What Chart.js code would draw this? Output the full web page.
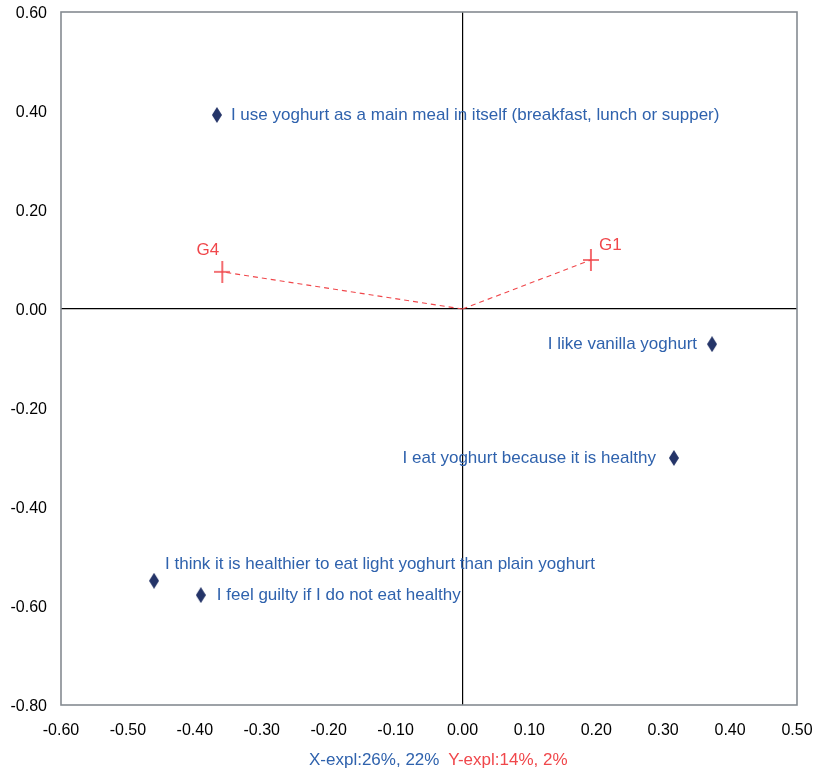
<!DOCTYPE html>
<html>
<head>
<meta charset="utf-8">
<script src="https://cdn.jsdelivr.net/npm/chart.js@4.4.1/dist/chart.umd.min.js"></script>
<style>
  html, body { margin: 0; padding: 0; background: #fff; }
  #wrap { width: 815px; height: 771px; }
</style>
</head>
<body>
<div id="wrap"><canvas id="c" width="815" height="771"></canvas></div>
<script>
// Attribute statements (loadings)
const statements = [
  'I use yoghurt as a main meal in itself (breakfast, lunch or supper)',
  'I like vanilla yoghurt',
  'I eat yoghurt because it is healthy',
  'I think it is healthier to eat light yoghurt than plain yoghurt',
  'I feel guilty if I do not eat healthy'
];
const statementX = [-0.367, 0.373, 0.316, -0.461, -0.391];
const statementY = [0.392, -0.071, -0.301, -0.549, -0.578];

// Consumer group centroids
const groups = ['G4', 'G1'];
const groupX = [-0.359, 0.192];
const groupY = [0.075, 0.099];

const xTicks = [-0.6, -0.5, -0.4, -0.3, -0.2, -0.1, 0, 0.1, 0.2, 0.3, 0.4, 0.5];
const yTicks = [-0.8, -0.6, -0.4, -0.2, 0, 0.2, 0.4, 0.6];

const explX = 'X-expl:26%, 22%';
const explY = 'Y-expl:14%, 2%';

const FONT = '"Liberation Sans", Arial, Helvetica, sans-serif';
const BLUE_TXT = '#2f62ad';
const NAVY = '#243468';
const RED = '#f0474b';

// tall diamond marker
function diamond(w, h, color) {
  const cv = document.createElement('canvas');
  cv.width = w; cv.height = h;
  const g = cv.getContext('2d');
  g.fillStyle = color;
  g.beginPath();
  g.moveTo(w / 2, 0);
  g.lineTo(w, h / 2);
  g.lineTo(w / 2, h);
  g.lineTo(0, h / 2);
  g.closePath();
  g.fill();
  return cv;
}
// tall plus marker
function plus(w, h, color) {
  const cv = document.createElement('canvas');
  cv.width = w; cv.height = h;
  const g = cv.getContext('2d');
  g.strokeStyle = color;
  g.lineWidth = 1.6;
  g.beginPath();
  g.moveTo(0, h / 2);
  g.lineTo(w, h / 2);
  g.moveTo(w / 2, 0);
  g.lineTo(w / 2, h);
  g.stroke();
  return cv;
}
const diamondImg = diamond(10, 16, NAVY);
const plusImg = plus(16, 22, RED);

// label placement: [dx, dy, align]
const stmtLabelPos = [
  [14, 0, 'left'],
  [-15, 0, 'right'],
  [-18, 0, 'right'],
  [11, -16, 'left'],
  [16, 0, 'left']
];
const groupLabelPos = [
  [-3, -22, 'right'],
  [8, -15, 'left']
];

const datasets = [
  {
    label: 'statements',
    data: statementX.map((x, i) => ({ x, y: statementY[i] })),
    pointStyle: diamondImg,
    pointRadius: 8,
    showLine: false
  }
];
groupX.forEach((gx, i) => {
  datasets.push({
    label: groups[i] + ' vector',
    data: [{ x: 0, y: 0 }, { x: gx, y: groupY[i] }],
    showLine: true,
    borderColor: RED,
    borderWidth: 1.1,
    borderDash: [5, 4],
    pointRadius: 0
  });
});
datasets.push({
  label: 'groups',
  data: groupX.map((x, i) => ({ x, y: groupY[i] })),
  pointStyle: plusImg,
  pointRadius: 11,
  showLine: false
});

const annotate = {
  id: 'annotate',
  beforeDatasetsDraw(chart) {
    const { ctx, chartArea: a } = chart;
    ctx.save();
    ctx.strokeStyle = '#858b91';
    ctx.lineWidth = 1.6;
    ctx.strokeRect(a.left, a.top, a.right - a.left, a.bottom - a.top);
    ctx.restore();
  },
  afterDatasetsDraw(chart) {
    const { ctx, scales: { x, y } } = chart;
    ctx.save();
    ctx.font = '17px ' + FONT;
    ctx.textBaseline = 'middle';
    ctx.fillStyle = BLUE_TXT;
    statements.forEach((s, i) => {
      const [dx, dy, al] = stmtLabelPos[i];
      ctx.textAlign = al;
      ctx.fillText(s, x.getPixelForValue(statementX[i]) + dx, y.getPixelForValue(statementY[i]) + dy);
    });
    ctx.fillStyle = RED;
    groups.forEach((g, i) => {
      const [dx, dy, al] = groupLabelPos[i];
      ctx.textAlign = al;
      ctx.fillText(g, x.getPixelForValue(groupX[i]) + dx, y.getPixelForValue(groupY[i]) + dy);
    });
    // explained variance caption
    ctx.textAlign = 'left';
    ctx.fillStyle = BLUE_TXT;
    const cx = 309, cy = 760;
    ctx.fillText(explX, cx, cy);
    const w = ctx.measureText(explX + ' ').width;
    ctx.fillStyle = RED;
    ctx.fillText(explY, cx + w + 4, cy);
    ctx.restore();
  }
};

const zeroGrid = (ctx) => (Math.abs(ctx.tick.value) < 1e-9 ? '#000' : 'rgba(0,0,0,0)');

new Chart(document.getElementById('c'), {
  type: 'scatter',
  data: { datasets },
  plugins: [annotate],
  options: {
    responsive: false,
    animation: false,
    layout: { padding: { top: 12, right: 18, bottom: 0, left: 0 } },
    plugins: { legend: { display: false }, tooltip: { enabled: false } },
    scales: {
      x: {
        type: 'linear',
        min: -0.6, max: 0.5,
        afterBuildTicks: (s) => { s.ticks = xTicks.map(v => ({ value: v })); },
        afterFit: (s) => { s.height = 66; s.paddingLeft = 0; s.paddingRight = 0; },
        border: { display: false },
        grid: { color: zeroGrid, lineWidth: 1.2, drawTicks: false },
        ticks: {
          padding: 16,
          color: '#000',
          font: { family: FONT, size: 16 },
          callback: (v) => Number(v).toFixed(2)
        }
      },
      y: {
        type: 'linear',
        min: -0.8, max: 0.6,
        afterBuildTicks: (s) => { s.ticks = yTicks.map(v => ({ value: v })); },
        afterFit: (s) => { s.width = 61; s.paddingTop = 0; s.paddingBottom = 0; },
        border: { display: false },
        grid: { color: zeroGrid, lineWidth: 1.2, drawTicks: false },
        ticks: {
          padding: 14,
          labelOffset: 2,
          color: '#000',
          font: { family: FONT, size: 16 },
          callback: (v) => Number(v).toFixed(2)
        }
      }
    }
  }
});
</script>
</body>
</html>
